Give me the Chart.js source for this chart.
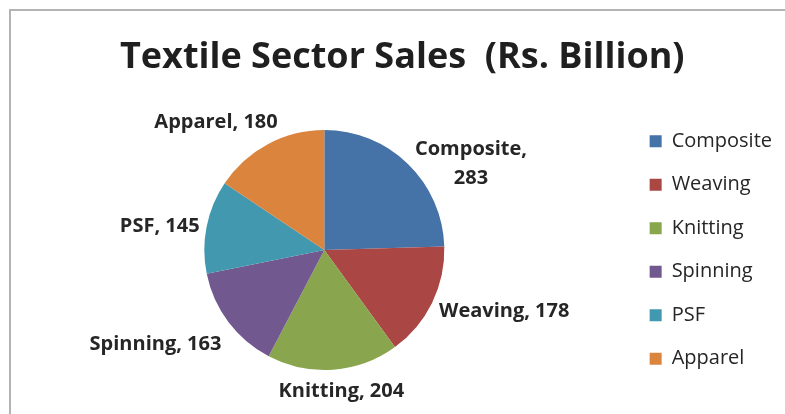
<!DOCTYPE html>
<html lang="en">
<head>
  <meta charset="UTF-8">
  <title>Textile Sector Sales</title>
  <style>
    html, body { margin: 0; padding: 0; background: #fff; }
    #vendas { display: block; }
  </style>
</head>
<body>
  <canvas id="vendas" width="785" height="414"></canvas>

  <script src="https://cdn.jsdelivr.net/npm/chart.js"></script>
  <script>
    // sales by segment, Rs. billion
    const segmentos = ['Composite', 'Weaving', 'Knitting', 'Spinning', 'PSF', 'Apparel'];
    const vendas = [283, 178, 204, 163, 145, 180];
    const cores = ['#4572A7', '#AA4643', '#89A54E', '#71588F', '#4198AF', '#DB843D'];

    const labelFont = 'bold 20px "Open Sans"';
    const maxLabelWidth = 140; // wider labels break after the comma

    // thin grey frame along the top and left
    const moldura = {
      id: 'moldura',
      beforeDraw(chart) {
        const ctx = chart.ctx;
        ctx.save();
        ctx.fillStyle = '#fff';
        ctx.fillRect(0, 0, chart.width, chart.height);
        ctx.strokeStyle = '#b4b4b4';
        ctx.lineWidth = 2;
        ctx.beginPath();
        ctx.moveTo(chart.width + 5, 10);
        ctx.lineTo(10, 10);
        ctx.lineTo(10, chart.height + 5);
        ctx.stroke();
        ctx.restore();
      }
    };

    // "Name, value" labels outside each slice
    const rotulos = {
      id: 'rotulos',
      afterDatasetsDraw(chart) {
        const ctx = chart.ctx;
        const meta = chart.getDatasetMeta(0);
        ctx.save();
        ctx.font = labelFont;
        ctx.fillStyle = '#262626';
        ctx.textAlign = 'center';
        ctx.textBaseline = 'middle';
        meta.data.forEach((arc, i) => {
          const p = arc.getProps(['x', 'y', 'startAngle', 'endAngle', 'outerRadius'], true);
          const mid = (p.startAngle + p.endAngle) / 2;
          const dx = Math.cos(mid);
          const dy = Math.sin(mid);

          let lines = [segmentos[i] + ', ' + vendas[i]];
          if (ctx.measureText(lines[0]).width > maxLabelWidth) {
            lines = [segmentos[i] + ',', String(vendas[i])];
          }
          const lineH = 29;
          const w = Math.max(...lines.map(l => ctx.measureText(l).width));
          const h = 22 + (lines.length - 1) * lineH;

          // sideways for slices on the left/right, above/below near the poles
          const clamp = v => Math.max(-1, Math.min(1, v));
          const kx = clamp(dx * 1.6);
          const ky = lines.length > 1 ? 0 : clamp(4.6 * dy * dy * dy);

          const cx = p.x + dx * p.outerRadius + kx * (w / 2 + 7);
          const cy = p.y + dy * p.outerRadius + ky * (h / 2 + 11);
          const top = cy - (lines.length - 1) * lineH / 2;
          lines.forEach((l, j) => ctx.fillText(l, cx, top + j * lineH));
        });
        ctx.restore();
      }
    };

    window.onload = function() {
      const ctx = document.getElementById('vendas').getContext('2d');
      new Chart(ctx, {
        type: 'pie',
        data: {
          labels: segmentos,
          datasets: [{
            data: vendas,
            backgroundColor: cores,
            borderWidth: 0,
            radius: 120
          }]
        },
        options: {
          responsive: false,
          animation: false,
          layout: {
            padding: { top: 10, left: 22.5, right: 3, bottom: 0 }
          },
          plugins: {
            title: {
              display: true,
              text: 'Textile Sector Sales  (Rs. Billion)',
              color: '#1f1f1f',
              font: { family: 'Open Sans', size: 36, weight: 'bold', lineHeight: 1.2 },
              padding: { top: 26, bottom: 6.8 }
            },
            legend: {
              position: 'right',
              fullSize: false,
              labels: {
                boxWidth: 12,
                boxHeight: 12,
                padding: 23.5,
                color: '#262626',
                font: { family: 'Open Sans', size: 20 }
              }
            },
            tooltip: { enabled: false }
          }
        },
        plugins: [moldura, rotulos]
      });
    };
  </script>
</body>
</html>
